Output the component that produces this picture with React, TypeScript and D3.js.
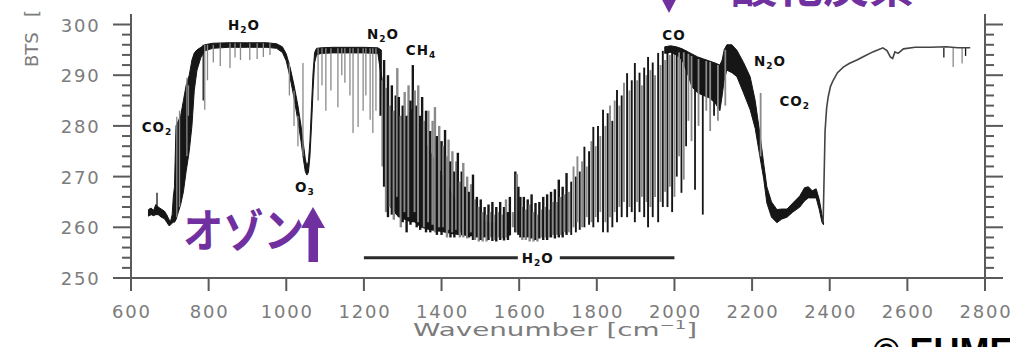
import React from "react";
import * as d3 from "d3";

const W = 1010;
const H = 347;

const xTicks = [600, 800, 1000, 1200, 1400, 1600, 1800, 2000, 2200, 2400, 2600, 2800];
const yTicks = [250, 260, 270, 280, 290, 300];
const yMinor = [252, 254, 256, 258, 262, 264, 266, 268, 272, 274, 276, 278, 282, 284, 286, 288, 292, 294, 296, 298];

// Smooth part of the spectrum 645-1245 cm-1 (band between upper and lower edge)
const bandAWn = [645, 652, 658, 664, 670, 678, 686, 692, 698, 702, 706, 709, 712, 716, 722, 728, 735, 742, 750, 757, 763, 770, 780, 790, 810, 850, 900, 950, 975, 990, 1000, 1010, 1020, 1030, 1038, 1044, 1049, 1053, 1057, 1061, 1065, 1069, 1073, 1078, 1090, 1120, 1160, 1200, 1236, 1244];
const bandATop = [263.5, 263.8, 263.3, 264.5, 264, 263.6, 263.2, 262.5, 261.5, 261.2, 262.5, 266, 268, 280, 281, 282, 285, 288, 290, 293, 294.4, 295, 295.5, 296, 296.3, 296.4, 296.4, 296.4, 296.2, 295.6, 294.2, 291.5, 288, 284, 280, 276.5, 273.5, 272, 273, 277, 284, 290.5, 294.5, 295.3, 295.4, 295.5, 295.5, 295.5, 295.4, 295];
const bandABottom = [262.2, 262.5, 262.3, 262.5, 262.5, 262, 261.7, 261, 260.3, 260.5, 260.8, 261, 261, 261.5, 263, 264.5, 267, 271, 275, 280, 287, 291, 293.5, 294.8, 295.3, 295.5, 295.5, 295.5, 295.3, 294.5, 292.8, 289.5, 285.5, 281, 277, 273.5, 271, 270.3, 270.8, 274, 280, 287, 292.5, 294, 294.3, 294.4, 294.4, 294.4, 294.3, 290];

// Dark core of the water vapour band
const coreWn = [1240, 1250, 1260, 1275, 1290, 1305, 1320, 1330, 1345, 1365, 1385, 1405, 1425, 1445, 1465, 1490, 1520, 1550, 1578];
const coreTop = [294, 288, 284, 281, 281, 281, 283, 284, 279, 276, 273, 270, 267, 264.5, 263, 262, 261, 261, 260.5];
const coreBottom = [293, 278, 265, 263, 262, 261.5, 261, 261, 260, 259.5, 259.2, 259, 258.7, 258.5, 258.3, 258.2, 258.2, 258.2, 258.4];

// CO / N2O / CO2 band 1975-2384
const coBandWn = [1975, 1990, 2005, 2020, 2035, 2045, 2060, 2075, 2090, 2105, 2117, 2123, 2128, 2135, 2148, 2161, 2178, 2195, 2208, 2220, 2230, 2238, 2250, 2264, 2276, 2290, 2305, 2323, 2335, 2345, 2355, 2365, 2373, 2380, 2384];
const coBandTop = [295.6, 295.8, 295.6, 295.2, 294.6, 294.2, 293.6, 293.2, 292.8, 292.4, 292, 293, 295, 296, 296, 294.9, 292.5, 289.7, 285, 278.5, 272.5, 268, 265, 263.5, 263.6, 263.6, 264.8, 266.2, 267.8, 268, 267.2, 267.6, 265.5, 262.5, 261];
const coBandBottom = [294.3, 294.5, 294, 293, 290, 287.7, 286.5, 286, 285.5, 284.5, 283, 286, 289, 291, 290.5, 289.7, 286.5, 283.2, 279.5, 274, 269.5, 264.8, 262, 260.9, 261.6, 262, 263, 264, 265.2, 265.8, 265.8, 265.8, 263.5, 261, 260.5];

// Window region 2383-2762
const tailWn = [2383, 2385, 2388, 2392, 2396, 2402, 2409, 2420, 2435, 2450, 2470, 2490, 2511, 2525, 2537, 2548, 2556, 2562, 2568, 2576, 2590, 2620, 2660, 2700, 2730, 2762];
const tailBts = [261, 268, 279, 283.5, 285.7, 287.8, 289, 290.5, 291.6, 292.3, 293, 293.8, 294.6, 295, 295.4, 294.8, 293.6, 293.3, 294.6, 294.3, 295.2, 295.5, 295.5, 295.6, 295.4, 295.4];

// Absorption lines: [wavenumber, top BTS, bottom BTS, dark(1)/grey(0)]
const plateauLines = [
  [667, 266.8, 262.5, 1], [718, 281.8, 262, 0], [725, 283, 264, 0], [744, 289.5, 274, 0], [748, 288, 282, 0],
  [786, 296, 285, 1], [790, 296, 283.2, 0], [797, 296, 289, 0], [812, 296, 292.5, 0], [830, 296.3, 291.8, 0],
  [855, 296.3, 291.4, 0], [868, 296.3, 293.5, 0], [882, 296.3, 293, 0], [906, 296.3, 293, 0], [925, 296.3, 293.2, 0],
  [941, 296.3, 293.6, 0], [958, 296.3, 294, 0], [1008, 292.5, 286, 0], [1020, 287, 280, 0], [1030, 282, 276, 0],
  [1043, 292.4, 274, 0],
  [1082, 295.3, 285, 0], [1092, 295.3, 288, 0], [1102, 295.3, 283, 0], [1115, 295.3, 287, 0], [1133, 295.3, 283.7, 0],
  [1143, 295.3, 290, 0], [1151, 295.3, 288.5, 0], [1164, 295.3, 286, 0], [1172, 295.3, 278.6, 0], [1185, 295.3, 279.8, 0],
  [1198, 295.3, 283, 0], [1205, 295.3, 286, 0], [1216, 295.3, 281.2, 0], [1223, 295.3, 278.6, 0], [1231, 295.3, 283, 0],
  [2694, 295.4, 293.5, 1], [2718, 295.4, 291.6, 0], [2741, 295.4, 292.3, 0], [2750, 295.4, 293.8, 1],
];

const waterLines = [
  [1243, 295, 282, 1], [1248, 289, 272, 0], [1252, 293, 268, 1], [1257, 287.5, 263, 0], [1262, 290, 262, 1],
  [1267, 284, 264, 0], [1272, 288, 262.5, 1], [1277, 283, 261.5, 0], [1282, 286, 263, 1], [1286, 291.4, 266, 0],
  [1290, 285.7, 262, 1], [1295, 282, 260, 0], [1300, 284, 261, 1], [1305, 286.7, 263, 0], [1310, 282, 259, 1],
  [1315, 288, 262, 0], [1320, 285, 260.5, 1], [1326, 292, 262, 1], [1331, 287, 263, 0], [1336, 284, 260, 1],
  [1340, 288, 261, 0], [1345, 282, 259.5, 1], [1350, 285.7, 262, 1], [1355, 281, 260, 0], [1360, 283, 259, 1],
  [1366, 283, 261, 0], [1371, 279, 259, 1], [1377, 281, 260.5, 0], [1383, 283.7, 259, 0], [1388, 278, 258.5, 1],
  [1394, 280, 260, 0], [1400, 277, 258.5, 1], [1405, 276, 260, 0], [1409, 279.2, 259, 1], [1414, 274, 258, 0],
  [1418, 277.3, 259.5, 0], [1423, 273, 258, 1], [1428, 275, 259, 0], [1433, 271, 258, 1], [1438, 273, 259.5, 0],
  [1442, 274.7, 258.5, 1], [1447, 269, 258, 0], [1452, 271, 259, 1], [1456, 272.7, 258, 0], [1461, 268, 258.5, 1],
  [1466, 270, 257.8, 0], [1471, 267, 258, 1], [1476, 268.5, 259, 0], [1481, 270.4, 257.5, 1], [1486, 265.5, 257.5, 0],
  [1491, 266, 258, 1], [1496, 264, 257.2, 0], [1501, 265.5, 257.5, 1], [1506, 263, 257.2, 0], [1511, 264, 258, 1],
  [1516, 262.5, 257.2, 0], [1521, 264.5, 257.5, 1], [1526, 263, 258, 0], [1531, 265, 257.3, 1], [1536, 262.5, 257.5, 0],
  [1541, 264, 257.2, 1], [1546, 263, 258, 0], [1551, 265, 257.5, 1], [1556, 262.5, 257.8, 0], [1561, 264, 257.4, 1],
  [1566, 265.5, 258, 0], [1571, 263, 257.5, 1], [1576, 266, 258.5, 1],
  [1584, 263, 260, 0], [1590, 271, 259, 1], [1594, 270.5, 259, 0], [1598, 268, 258.5, 1],
  [1603, 266, 258, 1], [1608, 264, 257.5, 0], [1612, 266, 258, 1], [1617, 263.5, 257.5, 0], [1622, 265.5, 258, 1],
  [1627, 264.5, 257.2, 0], [1632, 266.5, 257.8, 1], [1637, 263, 257.2, 0], [1642, 264.8, 257.5, 1], [1647, 262.5, 257.2, 0],
  [1652, 265, 257.8, 1], [1657, 263.5, 258, 0], [1662, 266, 257.5, 1], [1667, 264, 258, 0], [1672, 266.5, 257.5, 1],
  [1677, 263.5, 258, 0], [1682, 267, 258, 1], [1687, 265, 258.5, 0], [1692, 267.5, 257.8, 1], [1697, 265, 258.5, 0],
  [1702, 269.4, 258, 1], [1707, 266, 258.5, 0], [1712, 268, 258, 1], [1717, 266.5, 259, 0], [1722, 270.7, 258.5, 1],
  [1728, 267, 259, 0], [1734, 269, 258.5, 1], [1740, 272, 260, 0], [1746, 270, 259, 1], [1750, 274, 261, 0],
  [1756, 271, 259.5, 1], [1762, 273, 260, 0], [1768, 275.9, 260, 1], [1774, 272, 262, 0], [1780, 275, 260.5, 1],
  [1786, 277, 261, 0], [1791, 279.8, 260, 1], [1797, 276, 262, 0], [1803, 280, 261, 1], [1809, 278, 263, 0],
  [1816, 283.2, 259, 1], [1822, 280, 261, 0], [1828, 282.5, 259, 1], [1834, 284, 262, 0], [1840, 281, 260, 1],
  [1846, 285, 263, 0], [1852, 287.1, 261, 1], [1858, 284, 264, 0], [1864, 286, 262, 1], [1870, 288.5, 265, 0],
  [1878, 290.4, 262, 1], [1884, 287, 264, 0], [1890, 289, 263, 1], [1898, 292.4, 261, 1], [1904, 289, 265, 0],
  [1910, 290.5, 263, 1], [1916, 288, 266, 0], [1922, 291.5, 262, 1], [1928, 290, 265, 0], [1932, 293.6, 260, 1],
  [1938, 291, 264, 0], [1944, 292.5, 262, 1], [1950, 290, 266, 0], [1958, 294.4, 261, 1], [1964, 292, 265, 0],
  [1970, 294.8, 264, 1], [1976, 293, 267, 0], [1982, 295.5, 264, 1], [1988, 294, 268, 0], [1994, 295.5, 263, 1],
  [2000, 295.6, 266, 0],
];

const coLines = [
  [2006, 295, 270, 1], [2012, 294.5, 274, 0], [2018, 295.2, 266.8, 1], [2024, 294.5, 269.4, 0], [2030, 294.8, 276, 1],
  [2036, 294.2, 281, 0], [2044, 293.8, 277, 0], [2053, 293.5, 267.4, 1], [2062, 293.2, 280, 0], [2073, 293, 262.5, 1],
  [2082, 292.8, 283, 0], [2092, 292.6, 279, 0], [2102, 292.4, 282, 1], [2112, 292, 281, 0], [2131, 295, 284, 0],
  [2222, 286.5, 274, 0],
];

// Molecule labels: [main, subscript, tail, wavenumber, BTS]
const moleculeLabels: [string, string, string, number, number][] = [
  ["H", "2", "O", 891, 300],
  ["CO", "2", "", 667, 279.8],
  ["O", "3", "", 1048, 268],
  ["N", "2", "O", 1249, 298.1],
  ["CH", "4", "", 1347, 295],
  ["CO", "", "", 1999, 297.9],
  ["N", "2", "O", 2246, 292.8],
  ["CO", "2", "", 2310, 284.9],
];
const waterBarRange = [1200, 2000];
const waterBarLabelAt = [1648, 254];

const GREY = "#8a8a8a";
const BLACK = "#161616";
const AXIS = "#5a5a5a";
const LABEL = "#7c7c7c";
const PURPLE = "#7030a0";

export default function App() {
  const x = d3.scaleLinear().domain([600, 2800]).range([131, 985]);
  const y = d3.scaleLinear().domain([250, 300]).range([278, 24.5]);

  const band = (wn: number[], top: number[], bot: number[]) =>
    d3
      .area<number>()
      .x((d) => x(d))
      .y0((_, i) => y(bot[i]))
      .y1((_, i) => y(top[i]))(wn) || "";

  const tailPath =
    d3
      .line<number>()
      .x((d) => x(d))
      .y((_, i) => y(tailBts[i]))(tailWn) || "";

  const drawLines = (lines: number[][], width: (wn: number) => number) =>
    lines.map((l, i) => (
      <line
        key={i}
        x1={x(l[0])}
        x2={x(l[0])}
        y1={y(l[1])}
        y2={y(l[2])}
        stroke={l[3] ? BLACK : GREY}
        strokeWidth={width(l[0])}
      />
    ));

  const tickFont = "DejaVu Sans, Verdana, sans-serif";
  const yLeft = 131;
  const yRight = 985;
  const axisTop = 14;
  const axisBottom = y(250);

  return (
    <svg
      width={W}
      height={H}
      viewBox={`0 0 ${W} ${H}`}
      style={{ position: "absolute", left: 0, top: 0, background: "#fff" }}
    >
      <rect x={0} y={0} width={W} height={H} fill="#fff" />

      {/* Axes */}
      <g stroke={AXIS} strokeWidth={2} fill="none">
        <line x1={yLeft} x2={yLeft} y1={axisTop} y2={axisBottom} />
        <line x1={yRight} x2={yRight} y1={axisTop} y2={axisBottom} />
        <line x1={yLeft - 18} x2={yRight + 18} y1={axisBottom} y2={axisBottom} />
        {yTicks.map((t) => (
          <g key={t}>
            <line x1={yLeft - 18} x2={yLeft} y1={y(t)} y2={y(t)} />
            <line x1={yRight} x2={yRight + 18} y1={y(t)} y2={y(t)} />
          </g>
        ))}
        {yMinor.map((t) => (
          <g key={t}>
            <line x1={yLeft - 9} x2={yLeft} y1={y(t)} y2={y(t)} />
            <line x1={yRight} x2={yRight + 9} y1={y(t)} y2={y(t)} />
          </g>
        ))}
        {xTicks.map((t) => (
          <line key={t} x1={x(t)} x2={x(t)} y1={axisBottom} y2={axisBottom + 13} />
        ))}
      </g>

      {/* Tick labels */}
      <g fill={LABEL} fontFamily={tickFont} fontSize={18} letterSpacing={1.8}>
        {yTicks.map((t) => (
          <text key={t} x={100.5} y={y(t) + 7} textAnchor="end">
            {t}
          </text>
        ))}
        {xTicks.map((t) => (
          <text key={t} x={x(t) + 1} y={318} textAnchor="middle">
            {t}
          </text>
        ))}
      </g>

      {/* Axis titles */}
      <g fill={LABEL} fontFamily={tickFont} fontSize={18}>
        <text transform="translate(38,67) rotate(-90)">BTS</text>
        <text transform="translate(38,17) rotate(-90)">
          [<tspan dx={14}>K]</tspan>
        </text>
        <text x={413} y={336} fontSize={18.5} textLength={284} lengthAdjust="spacingAndGlyphs">
          Wavenumber [cm
          <tspan fontSize={12} dy={-7}>−1</tspan>
          <tspan dy={7}>]</tspan>
        </text>
      </g>

      {/* Spectrum */}
      <path d={band(bandAWn, bandATop, bandABottom)} fill={BLACK} stroke={BLACK} strokeWidth={1} />
      <path d={band(coreWn, coreTop, coreBottom)} fill={BLACK} />
      <g>{drawLines(waterLines, (wn) => (wn < 1724 ? 2.4 : 1.9))}</g>
      <path d={band(coBandWn, coBandTop, coBandBottom)} fill={BLACK} stroke={BLACK} strokeWidth={1} />
      <g>{drawLines(coLines, () => 1.8)}</g>
      <g>{drawLines(plateauLines, () => 1.3)}</g>
      <path d={tailPath} fill="none" stroke="#444" strokeWidth={1.6} />

      {/* Water bar */}
      <g stroke="#2a2a2a" strokeWidth={3}>
        <line x1={x(waterBarRange[0])} x2={x(waterBarLabelAt[0]) - 20} y1={y(waterBarLabelAt[1])} y2={y(waterBarLabelAt[1])} />
        <line x1={x(waterBarLabelAt[0]) + 22} x2={x(waterBarRange[1])} y1={y(waterBarLabelAt[1])} y2={y(waterBarLabelAt[1])} />
      </g>

      {/* Molecule labels */}
      <g fill="#111" fontFamily={tickFont} fontWeight={700} fontSize={13.5}>
        {moleculeLabels.map(([a, s, b, wn, t], i) => (
          <text key={i} x={x(wn)} y={y(t) + 5} textAnchor="middle" letterSpacing={1}>
            {a}
            {s && (
              <tspan fontSize={9} dy={3}>
                {s}
              </tspan>
            )}
            {s && b ? <tspan dy={-3}>{b}</tspan> : b}
          </text>
        ))}
        <text x={x(waterBarLabelAt[0])} y={y(waterBarLabelAt[1]) + 5} textAnchor="middle" letterSpacing={1}>
          H<tspan fontSize={9} dy={3}>2</tspan>
          <tspan dy={-3}>O</tspan>
        </text>
      </g>

      {/* Purple annotations */}
      <g fill={PURPLE}>
        <text
          x={183}
          y={247}
          fontFamily="Noto Sans CJK JP"
          fontWeight={700}
          fontSize={46}
          textLength={121}
          lengthAdjust="spacingAndGlyphs"
        >
          オゾン
        </text>
        <rect x={308.5} y={226} width={9.5} height={36} />
        <polygon points="301,228 325,228 313,207" />

        <text x={685} y={2} fontFamily="Noto Sans CJK JP" fontWeight={700} fontSize={46}>
          一酸化炭素
        </text>
        <rect x={664.5} y={-40} width={9.5} height={32} />
        <polygon points="657,-10 681,-10 669,13" />
      </g>

      {/* Credit */}
      <text x={873} y={364} fontFamily="Liberation Sans, Arial, sans-serif" fontWeight={700} fontSize={36} fill="#000">
        © EUMETSAT
      </text>
    </svg>
  );
}
